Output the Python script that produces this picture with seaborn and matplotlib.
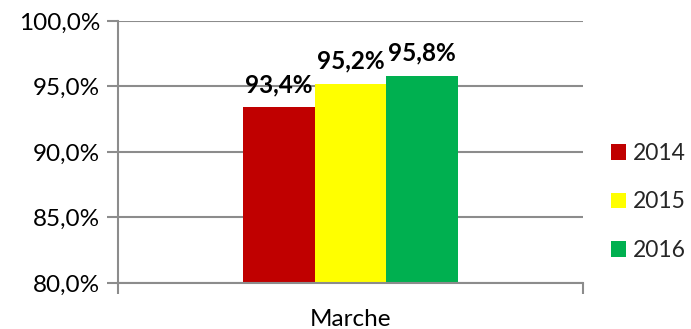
import matplotlib
matplotlib.use("Agg")
import matplotlib.pyplot as plt
import seaborn as sns
import pandas as pd

categories = ["Marche"]
years = ["2014", "2015", "2016"]
values = [93.4, 95.2, 95.8]
colors = ["#C00000", "#FFFF00", "#00B050"]
y_ticks = [80, 85, 90, 95, 100]

df = pd.DataFrame({"cat": categories * len(years), "year": years, "value": values})

sns.set_theme(style="white")
plt.rcParams["font.family"] = ["Lato", "DejaVu Sans"]

fs = 17.5
leg_fs = 16.5

fig = plt.figure(figsize=(6.91, 3.29), dpi=100)
ax = fig.add_axes([118 / 691, 1 - 283 / 329, (583 - 118) / 691, (283 - 21) / 329])

sns.barplot(data=df, x="cat", y="value", hue="year", palette=colors,
            width=0.462, saturation=1, linewidth=0, ax=ax, legend=True)

grid_c = "#8C8C8C"
ax.set_ylim(80, 100)
ax.set_xlim(-0.5, 0.5)
ax.set_yticks(y_ticks)
ax.set_yticklabels([f"{t:.1f}%".replace(".", ",") for t in y_ticks], fontsize=fs, color="black")
ax.yaxis.grid(True, color=grid_c, linewidth=1.5)
ax.set_axisbelow(True)
ax.tick_params(axis="y", length=8, width=1.5, color=grid_c, left=True, pad=5, direction="out")
ax.set_xticks([-0.5, 0.5], minor=True)
ax.tick_params(axis="x", which="minor", length=8, width=1.5, color=grid_c, bottom=True)
ax.tick_params(axis="x", which="major", length=0, pad=19, labelsize=fs, labelcolor="black")
ax.set_xlabel("")
ax.set_ylabel("")
for s in ["top", "right"]:
    ax.spines[s].set_visible(False)
ax.spines["left"].set_color(grid_c)
ax.spines["left"].set_linewidth(1.5)
ax.spines["bottom"].set_color(grid_c)
ax.spines["bottom"].set_linewidth(1.5)

for container in ax.containers:
    for bar in container:
        h = bar.get_height()
        ax.annotate(f"{h:.1f}%".replace(".", ","),
                    (bar.get_x() + bar.get_width() / 2, h),
                    xytext=(0, 8), textcoords="offset points",
                    ha="center", va="bottom", fontsize=fs, fontweight="bold",
                    color="black", annotation_clip=False)

leg = ax.legend(loc="center left", bbox_to_anchor=(611 / 691, 1 - 202 / 329),
                bbox_transform=fig.transFigure, frameon=False, fontsize=leg_fs,
                handlelength=0.65, handleheight=0.65, handletextpad=0.3,
                labelspacing=1.2, borderaxespad=0, borderpad=0)

fig.savefig("out.png", dpi=100, facecolor="white")
